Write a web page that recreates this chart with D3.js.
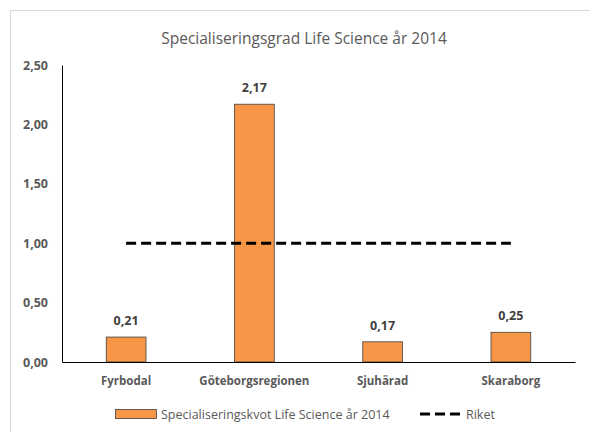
<!DOCTYPE html>
<html>
<head>
<meta charset="utf-8">
<script src="https://cdn.jsdelivr.net/npm/d3@7"></script>
<style>
  body { margin: 0; background: #fff; }
  text { font-family: "Open Sans", "Noto Sans", sans-serif; }
</style>
</head>
<body>
<div id="chart"></div>
<script>
// data
var regions = ["Fyrbodal", "Göteborgsregionen", "Sjuhärad", "Skaraborg"];
var kvot = [0.21, 2.17, 0.17, 0.25];
var riket = [1, 1, 1, 1];
var yTicks = [0, 0.5, 1, 1.5, 2, 2.5];

var W = 590, H = 432;

var svg = d3.select("#chart").append("svg")
    .attr("width", W)
    .attr("height", H);

// chart frame
svg.append("rect")
    .attr("x", 10.5).attr("y", 10.5)
    .attr("width", W).attr("height", H)
    .attr("fill", "none")
    .attr("stroke", "#d9d9d9");

svg.append("text")
    .attr("x", 304).attr("y", 44)
    .attr("text-anchor", "middle")
    .attr("font-size", 15.5)
    .attr("fill", "#595959")
    .text("Specialiseringsgrad Life Science år 2014");

var x = d3.scaleBand()
    .domain(regions)
    .range([62, 575])
    .paddingInner(0.69)
    .paddingOuter(0.345);

var y = d3.scaleLinear()
    .domain([0, 2.5])
    .range([362, 65]);

var fmt = function (d) { return d3.format(".2f")(d).replace(".", ","); };

// y axis
var yAxis = svg.append("g")
    .attr("transform", "translate(62,0)")
    .call(d3.axisLeft(y).tickValues(yTicks).tickSize(0).tickPadding(14).tickFormat(fmt));
yAxis.select(".domain").attr("stroke", "#000").attr("stroke-width", 1);
yAxis.selectAll("text")
    .attr("font-family", "'Open Sans', sans-serif")
    .attr("font-size", 12.5)
    .attr("font-weight", "bold")
    .attr("fill", "#595959");

// bars
svg.selectAll(".bar")
    .data(regions)
    .enter().append("rect")
    .attr("class", "bar")
    .attr("x", function (d) { return x(d); })
    .attr("y", function (d, i) { return y(kvot[i]); })
    .attr("width", x.bandwidth())
    .attr("height", function (d, i) { return y(0) - y(kvot[i]); })
    .attr("fill", "#f79646")
    .attr("stroke", "#404040")
    .attr("stroke-width", 0.8);

// value labels
svg.selectAll(".val")
    .data(regions)
    .enter().append("text")
    .attr("x", function (d) { return x(d) + x.bandwidth() / 2; })
    .attr("y", function (d, i) { return y(kvot[i]) - 12; })
    .attr("text-anchor", "middle")
    .attr("font-size", 12.5)
    .attr("font-weight", "bold")
    .attr("fill", "#404040")
    .text(function (d, i) { return fmt(kvot[i]); });

// x axis
var xAxis = svg.append("g")
    .attr("transform", "translate(0,362)")
    .call(d3.axisBottom(x).tickSize(0).tickPadding(15).tickSizeOuter(0));
xAxis.select(".domain").attr("stroke", "#000").attr("stroke-width", 1);
xAxis.selectAll("text")
    .attr("font-family", "'Open Sans', sans-serif")
    .attr("font-size", 11.5)
    .attr("font-weight", "bold")
    .attr("fill", "#595959");

// Riket line
var line = d3.line()
    .x(function (d, i) { return x(regions[i]) + x.bandwidth() / 2; })
    .y(function (d) { return y(d); });
svg.append("path")
    .datum(riket)
    .attr("d", line)
    .attr("fill", "none")
    .attr("stroke", "#000")
    .attr("stroke-width", 3)
    .attr("stroke-dasharray", "10,5");

// legend
var lg = svg.append("g");
lg.append("rect")
    .attr("x", 115.5).attr("y", 409.5)
    .attr("width", 41).attr("height", 9)
    .attr("fill", "#f79646")
    .attr("stroke", "#404040")
    .attr("stroke-width", 0.8);
lg.append("text")
    .attr("x", 161).attr("y", 419)
    .attr("font-size", 12.5)
    .attr("fill", "#595959")
    .text("Specialiseringskvot Life Science år 2014");
lg.append("line")
    .attr("x1", 420).attr("x2", 463)
    .attr("y1", 414).attr("y2", 414)
    .attr("stroke", "#000")
    .attr("stroke-width", 3)
    .attr("stroke-dasharray", "10,5");
lg.append("text")
    .attr("x", 466).attr("y", 419)
    .attr("font-size", 12.5)
    .attr("fill", "#595959")
    .text("Riket");
</script>
</body>
</html>
